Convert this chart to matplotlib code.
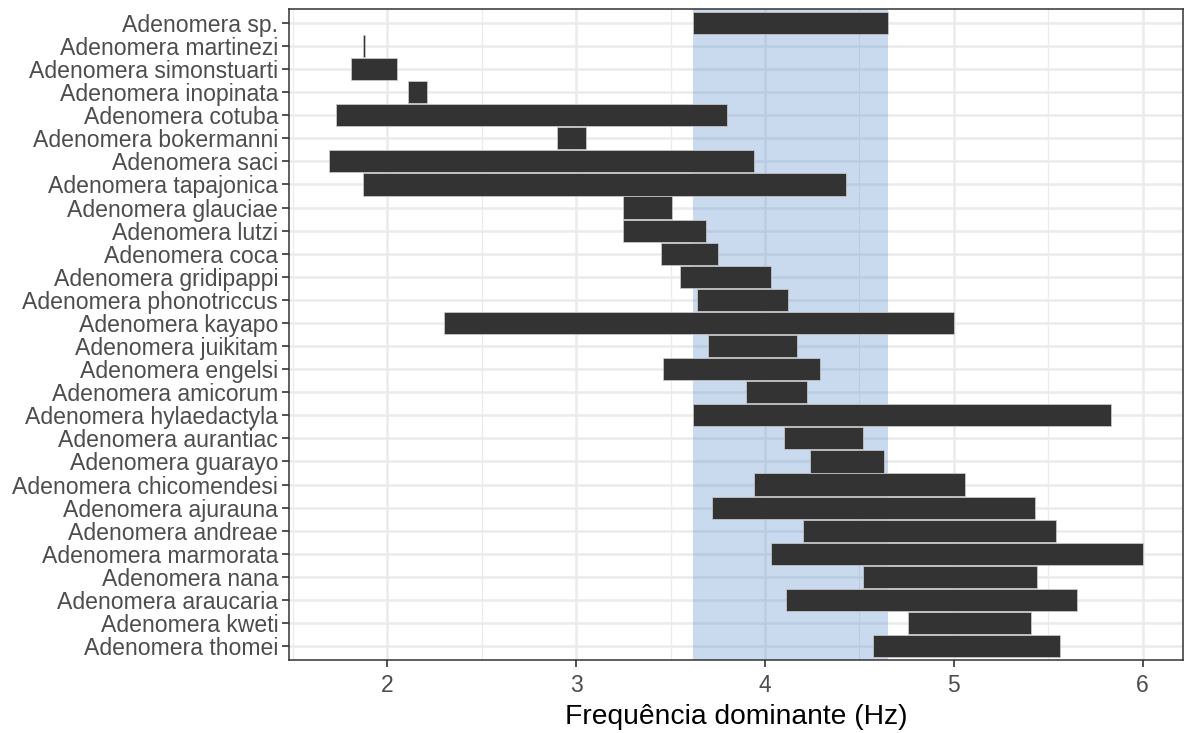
import matplotlib.pyplot as plt
from matplotlib.ticker import MultipleLocator

# species listed top to bottom
species = [
    "Adenomera sp.", "Adenomera martinezi", "Adenomera simonstuarti",
    "Adenomera inopinata", "Adenomera cotuba", "Adenomera bokermanni",
    "Adenomera saci", "Adenomera tapajonica", "Adenomera glauciae",
    "Adenomera lutzi", "Adenomera coca", "Adenomera gridipappi",
    "Adenomera phonotriccus", "Adenomera kayapo", "Adenomera juikitam",
    "Adenomera engelsi", "Adenomera amicorum", "Adenomera hylaedactyla",
    "Adenomera aurantiac", "Adenomera guarayo", "Adenomera chicomendesi",
    "Adenomera ajurauna", "Adenomera andreae", "Adenomera marmorata",
    "Adenomera nana", "Adenomera araucaria", "Adenomera kweti",
    "Adenomera thomei",
]
freq_min = [3.62, 1.87, 1.81, 2.11, 1.73, 2.90, 1.69, 1.87, 3.25, 3.25,
            3.45, 3.55, 3.64, 2.30, 3.70, 3.46, 3.90, 3.62, 4.10, 4.24,
            3.94, 3.72, 4.20, 4.03, 4.52, 4.11, 4.76, 4.57]
freq_max = [4.65, 1.88, 2.05, 2.21, 3.80, 3.05, 3.94, 4.43, 3.51, 3.69,
            3.75, 4.03, 4.12, 5.00, 4.17, 4.29, 4.22, 5.83, 4.52, 4.63,
            5.06, 5.43, 5.54, 6.00, 5.44, 5.65, 5.41, 5.56]

# range of the focal species (shaded band)
band = (3.62, 4.65)

plt.rcParams["font.family"] = ["Liberation Sans", "DejaVu Sans"]

fig = plt.figure(figsize=(11.84, 7.33), dpi=100)
ax = fig.add_axes([0.2443, 0.0996, 0.7546, 0.8881])

n = len(species)
ypos = [n - 1 - i for i in range(n)]
widths = [hi - lo for lo, hi in zip(freq_min, freq_max)]

ax.set_axisbelow(True)
ax.grid(which="major", color="#ebebeb", linewidth=1.8, zorder=0)
ax.grid(which="minor", axis="x", color="#ebebeb", linewidth=0.9, zorder=0)
ax.axvspan(band[0], band[1], color="#3e7cc8", alpha=0.28, lw=0, zorder=1)
ax.barh(ypos, widths, left=freq_min, height=0.96, color="#333333",
        edgecolor="#cfcfcf", linewidth=0.5, zorder=2)

ax.set_xlim(1.481, 6.212)
ax.set_ylim(-0.6, n - 0.4)
ax.xaxis.set_major_locator(MultipleLocator(1))
ax.xaxis.set_minor_locator(MultipleLocator(0.5))
ax.set_yticks(ypos)
ax.set_yticklabels(species)

ax.tick_params(axis="both", which="major", length=5, width=1.2,
               color="#333333", labelcolor="#4d4d4d")
ax.tick_params(axis="y", labelsize=16.6, pad=3)
ax.tick_params(axis="x", labelsize=16.5, pad=5)
ax.tick_params(which="minor", length=0)

for s in ax.spines.values():
    s.set_color("#333333")
    s.set_linewidth(1.1)

ax.set_xlabel("Frequência dominante (Hz)", fontsize=20.3, color="black",
              labelpad=5)

fig.savefig("out.png", dpi=100)
